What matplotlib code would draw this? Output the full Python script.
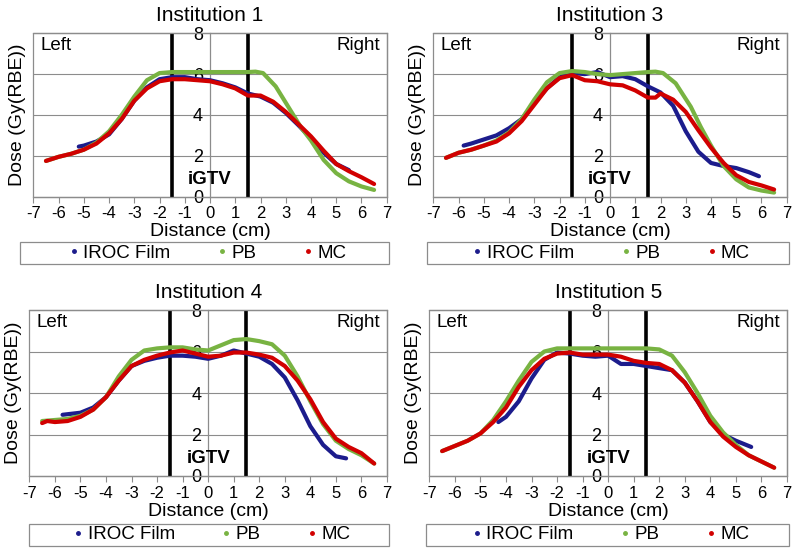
import matplotlib
matplotlib.use("Agg")
import matplotlib.pyplot as plt
from matplotlib.lines import Line2D
from matplotlib.patches import Rectangle

plt.rcParams['font.family'] = ['Liberation Sans', 'DejaVu Sans']

titles = ["Institution 1", "Institution 3", "Institution 4", "Institution 5"]
series_names = ["IROC Film", "PB", "MC"]
xticks = list(range(-7, 8))
yticks = [0, 2, 4, 6, 8]

# ---- Institution 1 ----
i1_film_x = [-5.2, -5, -4.5, -4, -3.5, -3, -2.5, -2, -1.5, -1, -0.5, 0, 0.5, 1, 1.5, 2, 2.5, 3, 3.5, 4, 4.5, 5, 5.5]
i1_film_y = [2.45, 2.5, 2.7, 3.05, 3.8, 4.7, 5.35, 5.75, 5.85, 5.85, 5.75, 5.7, 5.55, 5.35, 5.05, 4.9, 4.6, 4.1, 3.5, 2.85, 2.15, 1.6, 1.3]
i1_pb_x = [-6.5, -6, -5.5, -5, -4.5, -4, -3.5, -3, -2.5, -2, -1.5, -1, -0.5, 0, 0.5, 1, 1.5, 1.8, 2.1, 2.6, 3.2, 3.6, 4, 4.5, 5, 5.5, 6, 6.5]
i1_pb_y = [1.75, 1.95, 2.1, 2.3, 2.65, 3.2, 4.0, 4.9, 5.7, 6.05, 6.1, 6.1, 6.1, 6.1, 6.1, 6.1, 6.1, 6.12, 6.05, 5.4, 4.2, 3.4, 2.75, 1.8, 1.15, 0.75, 0.5, 0.33]
i1_mc_x = [-6.5, -6, -5.5, -5, -4.5, -4, -3.5, -3, -2.5, -2, -1.5, -1, -0.5, 0, 0.5, 1, 1.5, 1.8, 2, 2.5, 3, 3.5, 4, 4.5, 5, 5.5, 6, 6.5]
i1_mc_y = [1.75, 1.95, 2.1, 2.3, 2.6, 3.1, 3.8, 4.7, 5.3, 5.65, 5.75, 5.75, 5.7, 5.65, 5.5, 5.3, 4.95, 4.95, 4.95, 4.65, 4.15, 3.55, 2.95, 2.25, 1.6, 1.25, 0.95, 0.62]

# ---- Institution 3 ----
i3_film_x = [-5.8, -5.5, -5, -4.5, -4, -3.5, -3, -2.5, -2, -1.5, -1, -0.5, 0, 0.5, 1, 1.5, 2, 2.5, 3, 3.5, 4, 4.5, 5, 5.5, 5.9]
i3_film_y = [2.5, 2.6, 2.8, 3.0, 3.35, 3.8, 4.6, 5.3, 5.85, 6.05, 6.0, 6.1, 5.85, 5.9, 5.75, 5.4, 5.1, 4.45, 3.2, 2.2, 1.65, 1.5, 1.4, 1.2, 1.0]
i3_pb_x = [-6.5, -6, -5.5, -5, -4.5, -4, -3.5, -3, -2.5, -2, -1.5, -1, -0.5, 0, 0.5, 1, 1.5, 1.8, 2.1, 2.6, 3.2, 3.6, 4, 4.5, 5, 5.5, 6, 6.5]
i3_pb_y = [1.9, 2.15, 2.3, 2.5, 2.75, 3.15, 3.8, 4.75, 5.6, 6.05, 6.15, 6.1, 6.0, 5.95, 6.0, 6.05, 6.1, 6.12, 6.05, 5.55, 4.4, 3.4, 2.5, 1.5, 0.85, 0.45, 0.3, 0.2]
i3_mc_x = [-6.5, -6, -5.5, -5, -4.5, -4, -3.5, -3, -2.5, -2, -1.5, -1, -0.5, 0, 0.5, 1, 1.5, 1.8, 2, 2.5, 3, 3.5, 4, 4.5, 5, 5.5, 6, 6.5]
i3_mc_y = [1.9, 2.15, 2.3, 2.5, 2.7, 3.1, 3.7, 4.5, 5.3, 5.8, 5.95, 5.7, 5.65, 5.5, 5.45, 5.2, 4.85, 4.85, 5.05, 4.75, 4.15, 3.25, 2.4, 1.65, 1.05, 0.72, 0.55, 0.35]

# ---- Institution 4 ----
i4_film_x = [-5.7, -5, -4.5, -4, -3.5, -3, -2.5, -2, -1.5, -1, -0.5, 0, 0.5, 1, 1.5, 2, 2.5, 3, 3.5, 4, 4.5, 5, 5.4]
i4_film_y = [2.95, 3.05, 3.3, 3.8, 4.6, 5.3, 5.55, 5.7, 5.8, 5.8, 5.75, 5.65, 5.8, 6.05, 5.9, 5.75, 5.4, 4.75, 3.65, 2.4, 1.5, 0.95, 0.85]
i4_pb_x = [-6.5, -6, -5.5, -5, -4.5, -4, -3.5, -3, -2.5, -2, -1.5, -1, -0.5, 0, 0.5, 1, 1.5, 2, 2.5, 3, 3.5, 4, 4.5, 5, 5.5, 6, 6.5]
i4_pb_y = [2.65, 2.7, 2.75, 2.9, 3.2, 3.8, 4.8, 5.6, 6.05, 6.15, 6.2, 6.2, 6.1, 6.05, 6.3, 6.55, 6.6, 6.5, 6.35, 5.8, 4.8, 3.6, 2.5, 1.7, 1.3, 1.0, 0.6]
i4_mc_x = [-6.5, -6.3, -6, -5.5, -5, -4.5, -4, -3.5, -3, -2.5, -2, -1.5, -1, -0.5, 0, 0.5, 1, 1.5, 2, 2.5, 3, 3.5, 4, 4.5, 5, 5.5, 6, 6.5]
i4_mc_y = [2.55, 2.65, 2.6, 2.65, 2.85, 3.2, 3.8, 4.6, 5.3, 5.6, 5.8, 5.95, 6.05, 5.9, 5.75, 5.8, 5.95, 5.95, 5.85, 5.7, 5.3, 4.6, 3.7, 2.6, 1.8, 1.4, 1.1, 0.6]

# ---- Institution 5 ----
i5_film_x = [-4.3, -4, -3.5, -3, -2.5, -2, -1.5, -1, -0.5, 0, 0.5, 1, 1.5, 2, 2.5, 3, 3.5, 4, 4.5, 5, 5.6]
i5_film_y = [2.6, 2.85, 3.6, 4.7, 5.6, 5.95, 5.9, 5.8, 5.75, 5.8, 5.4, 5.4, 5.3, 5.2, 5.1, 4.5, 3.6, 2.6, 2.0, 1.7, 1.4]
i5_pb_x = [-6.5, -6, -5.5, -5, -4.5, -4, -3.5, -3, -2.5, -2, -1.5, -1, -0.5, 0, 0.5, 1, 1.5, 2, 2.5, 3, 3.5, 4, 4.5, 5, 5.5, 6, 6.5]
i5_pb_y = [1.2, 1.45, 1.7, 2.05, 2.7, 3.6, 4.6, 5.5, 6.0, 6.15, 6.15, 6.15, 6.15, 6.15, 6.15, 6.15, 6.15, 6.1, 5.8, 5.0, 4.0, 2.9, 2.1, 1.5, 1.0, 0.7, 0.4]
i5_mc_x = [-6.5, -6, -5.5, -5, -4.5, -4, -3.5, -3, -2.5, -2, -1.5, -1, -0.5, 0, 0.5, 1, 1.5, 2, 2.5, 3, 3.5, 4, 4.5, 5, 5.5, 6, 6.5]
i5_mc_y = [1.2, 1.45, 1.7, 2.05, 2.6, 3.3, 4.3, 5.1, 5.65, 5.9, 5.95, 5.85, 5.85, 5.85, 5.75, 5.55, 5.45, 5.4, 5.1, 4.5, 3.6, 2.6, 1.9, 1.4, 1.0, 0.7, 0.4]

igtv_bounds = [-1.5, 1.5]

panels = [
    (i1_film_x, i1_film_y, i1_pb_x, i1_pb_y, i1_mc_x, i1_mc_y),
    (i3_film_x, i3_film_y, i3_pb_x, i3_pb_y, i3_mc_x, i3_mc_y),
    (i4_film_x, i4_film_y, i4_pb_x, i4_pb_y, i4_mc_x, i4_mc_y),
    (i5_film_x, i5_film_y, i5_pb_x, i5_pb_y, i5_mc_x, i5_mc_y),
]

colors = ['#1c1c8c', '#78b342', '#d10000']
grid_c = '#8c8c8c'

# axes rectangles [left, bottom, width, height] in figure fraction
positions = [
    [0.0417, 0.645, 0.4417, 0.295],
    [0.5417, 0.645, 0.4417, 0.295],
    [0.0367, 0.1408, 0.447, 0.2996],
    [0.5367, 0.1408, 0.447, 0.2996],
]
legend_boxes = [
    (-0.037, -0.415, 1.043, 0.135),
    (-0.017, -0.415, 1.023, 0.135),
    (-0.002, -0.42, 1.007, 0.13),
    (-0.008, -0.42, 1.013, 0.13),
]

fig = plt.figure(figsize=(8, 5.54), dpi=100)

for k in range(4):
    ax = fig.add_axes(positions[k])
    fx, fy, px, py, mx, my = panels[k]
    ax.set_xlim(-7, 7)
    ax.set_ylim(0, 8)
    for yv in yticks[1:-1]:
        ax.axhline(yv, color=grid_c, lw=0.8, zorder=1)
    for b in igtv_bounds:
        ax.axvline(b, color='black', lw=2.6, zorder=2)
    ax.plot(fx, fy, color=colors[0], lw=3, zorder=3, solid_capstyle='round', solid_joinstyle='round')
    ax.plot(px, py, color=colors[1], lw=3, zorder=4, solid_capstyle='round', solid_joinstyle='round')
    ax.plot(mx, my, color=colors[2], lw=3, zorder=5, solid_capstyle='round', solid_joinstyle='round')

    for s in ['top', 'right', 'bottom']:
        ax.spines[s].set_color(grid_c)
        ax.spines[s].set_linewidth(0.9)
    ax.spines['left'].set_position(('data', 0))
    ax.spines['left'].set_color(grid_c)
    ax.spines['left'].set_linewidth(0.9)
    ax.add_patch(Rectangle((0, 0), 1, 1, transform=ax.transAxes, fill=False,
                           edgecolor=grid_c, lw=0.9, zorder=0.5, clip_on=False))

    ax.set_xticks(xticks)
    ax.set_xticklabels([str(t) for t in xticks])
    ax.set_yticks(yticks)
    ax.set_yticklabels([str(t) for t in yticks])
    ax.tick_params(axis='x', direction='out', length=4, width=0.8, color=grid_c,
                   labelsize=12, pad=3)
    ax.tick_params(axis='y', length=0, labelsize=13, pad=5)
    for lab in ax.get_yticklabels():
        lab.set_zorder(6)

    ax.set_title(titles[k], fontsize=15, pad=9)
    ax.set_xlabel("Distance (cm)", fontsize=14)
    ax.xaxis.set_label_coords(0.5, -0.16)
    ax.set_ylabel("Dose (Gy(RBE))", fontsize=14)
    ax.yaxis.set_label_coords(-0.02, 0.5)

    ax.text(0.02, 0.975, "Left", transform=ax.transAxes, ha='left', va='top', fontsize=13.5)
    ax.text(0.98, 0.975, "Right", transform=ax.transAxes, ha='right', va='top', fontsize=13.5)
    ax.text(0.0, 0.85, "iGTV", ha='center', va='center', fontsize=13.5, fontweight='bold', zorder=7)

    lb = legend_boxes[k]
    ax.add_patch(Rectangle((lb[0], lb[1]), lb[2], lb[3], transform=ax.transAxes,
                           fill=False, edgecolor=grid_c, lw=0.9, clip_on=False))
    handles = [Line2D([], [], color=c, marker='o', markersize=2.5, linestyle='none') for c in colors]
    ax.legend(handles, series_names, loc='center', ncol=3,
              bbox_to_anchor=(lb[0] + lb[2] / 2 + 0.012, lb[1] + lb[3] / 2),
              frameon=False, fontsize=13.5, handlelength=0.3, handletextpad=0.35,
              columnspacing=2.6, borderaxespad=0, borderpad=0)

fig.savefig("out.png", dpi=100)
